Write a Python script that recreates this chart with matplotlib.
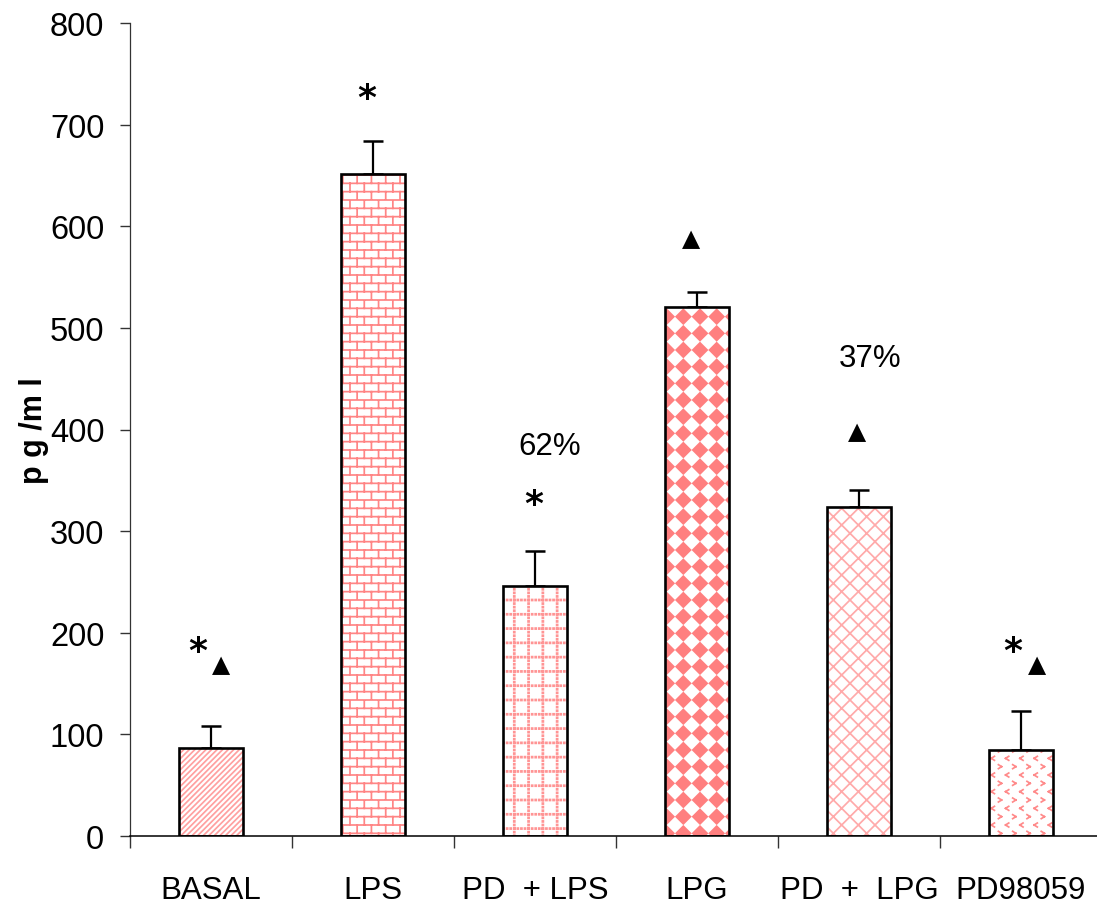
import warnings
import numpy as np
import matplotlib
matplotlib.use("Agg")
import matplotlib.pyplot as plt
from matplotlib import hatch as mhatch
from matplotlib.path import Path

warnings.filterwarnings("ignore")

groups = ["BASAL", "LPS", "PD  + LPS", "LPG", "PD  +  LPG", "PD98059"]
means = [87, 651, 246, 521, 324, 85]
sem = [21, 33, 34, 14, 16, 38]
hatches = ["//////", "b", "g", "d", "xx", "v"]
hatch_colors = ["#ffa0a0", "#ff8585", "#ff9494", "#ff7f7f", "#ffaaaa", "#ff8a8a"]

# (x, y, text) markers above the bars
marks = [
    (0.42, 182, "*"), (0.56, 169, "▲"),
    (1.46, 726, "*"),
    (2.49, 327, "*"), (2.59, 384, "62%"),
    (3.46, 588, "▲"),
    (4.49, 398, "▲"), (4.57, 470, "37%"),
    (5.45, 182, "*"), (5.60, 169, "▲"),
]


# ---- custom fill textures, defined in the unit hatch tile ----
def segments_to_path(segs):
    verts = np.asarray(segs, dtype=float).reshape(-1, 2)
    codes = np.tile([Path.MOVETO, Path.LINETO], len(segs))
    return verts, codes


def polys_to_path(polys):
    verts, codes = [], []
    for poly in polys:
        verts.extend(poly)
        verts.append(poly[0])
        codes.extend([Path.MOVETO] + [Path.LINETO] * (len(poly) - 1) + [Path.CLOSEPOLY])
    return np.asarray(verts, dtype=float), np.asarray(codes)


def bricks():
    rows, cols = 12, 7
    segs = [((0, k / rows), (1, k / rows)) for k in range(rows + 1)]
    for k in range(rows):
        y0, y1 = k / rows, (k + 1) / rows
        if k % 2 == 0:
            xs = [j / cols for j in range(cols + 1)]
        else:
            xs = [(j + 0.5) / cols for j in range(cols)]
        segs += [((x, y0), (x, y1)) for x in xs]
    return segments_to_path(segs)


def dotted_grid():
    lines, dots, r = 7, 28, 0.005
    polys = []
    for j in range(lines + 1):
        a = j / lines
        for i in range(dots + 1):
            b = i / dots
            for cx, cy in ((a, b), (b, a)):
                polys.append([(cx - r, cy - r), (cx + r, cy - r),
                              (cx + r, cy + r), (cx - r, cy + r)])
    return polys_to_path(polys)


def diamonds():
    n = 6
    s = 1 / n
    r = 0.43 * s
    centers = [(i * s, j * s) for i in range(n + 1) for j in range(n + 1)]
    polys = [[(cx, cy - r), (cx + r, cy), (cx, cy + r), (cx - r, cy)]
             for cx, cy in centers]
    return polys_to_path(polys)


def chevrons():
    rows, cols = 12, 7
    w, h = 0.016, 0.02
    segs = []
    for k in range(rows + 1):
        y = k / rows
        if k % 2 == 0:
            xs = [j / cols for j in range(cols + 1)]
            sign = 1
        else:
            xs = [(j + 0.5) / cols for j in range(cols)]
            sign = -1
        for x in xs:
            tip = (x + sign * w, y)
            segs.append(((x - sign * w, y - h), tip))
            segs.append(((x - sign * w, y + h), tip))
    return segments_to_path(segs)


def register_hatch(char, builder):
    class CustomHatch(mhatch.HatchPatternBase):
        def __init__(self, hatch, density):
            if char in hatch:
                self.verts, self.codes = builder()
                self.num_vertices = len(self.verts)
            else:
                self.num_vertices = 0

        def set_vertices_and_codes(self, vertices, codes):
            vertices[:] = self.verts
            codes[:] = self.codes

    mhatch._hatch_types.append(CustomHatch)


register_hatch("b", bricks)
register_hatch("g", dotted_grid)
register_hatch("d", diamonds)
register_hatch("v", chevrons)

plt.rcParams["font.family"] = ["Liberation Sans", "DejaVu Sans"]
plt.rcParams["hatch.linewidth"] = 1.25

fig = plt.figure(figsize=(10.97, 9.12), dpi=100)
ax = fig.add_axes([130 / 1097, 75 / 912, 972 / 1097, 813 / 912])

x = np.arange(len(groups)) + 0.5
width = 0.4

# textured fill first, then the black outlines on top
for xi, m, h, c in zip(x, means, hatches, hatch_colors):
    ax.bar(xi, m, width, color="white", edgecolor=c, linewidth=0, hatch=h, zorder=2)
ax.bar(x, means, width, fill=False, edgecolor="black", linewidth=1.9, zorder=3)
ax.errorbar(x, means, yerr=[np.zeros(len(sem)), sem], fmt="none", ecolor="black",
            elinewidth=1.6, capsize=7, capthick=1.8, zorder=1)

for mx, my, t in marks:
    if t == "*":
        ax.text(mx, my, t, ha="center", va="center", fontsize=26, fontweight="bold",
                family=["DejaVu Sans"])
    elif t == "▲":
        ax.text(mx, my, t, ha="center", va="center", fontsize=17,
                family=["DejaVu Sans"])
    else:
        ax.text(mx, my, t, ha="center", va="center", fontsize=22.5)

ax.set_xlim(0, 6)
ax.set_ylim(0, 800)
ax.set_yticks(range(0, 801, 100))
ax.set_xticks(np.arange(7))
ax.set_xticklabels([])
ax.set_xticks(x, minor=True)
ax.set_xticklabels(groups, minor=True)

ax.tick_params(axis="y", direction="out", length=7.5, width=1, pad=11, labelsize=23.5,
               color="#333333")
ax.tick_params(axis="x", which="major", direction="out", length=8.5, width=1, color="#333333")
ax.tick_params(axis="x", which="minor", length=0, pad=28, labelsize=22.5)

for side in ("top", "right"):
    ax.spines[side].set_visible(False)
ax.spines["left"].set_linewidth(0.9)
ax.spines["left"].set_color("#333333")
ax.spines["bottom"].set_linewidth(1.1)

ax.set_ylabel("p g /m l", fontsize=22, fontweight="bold")
ax.yaxis.set_label_coords(-0.083, 0.5)

fig.savefig("out.png", dpi=100)
